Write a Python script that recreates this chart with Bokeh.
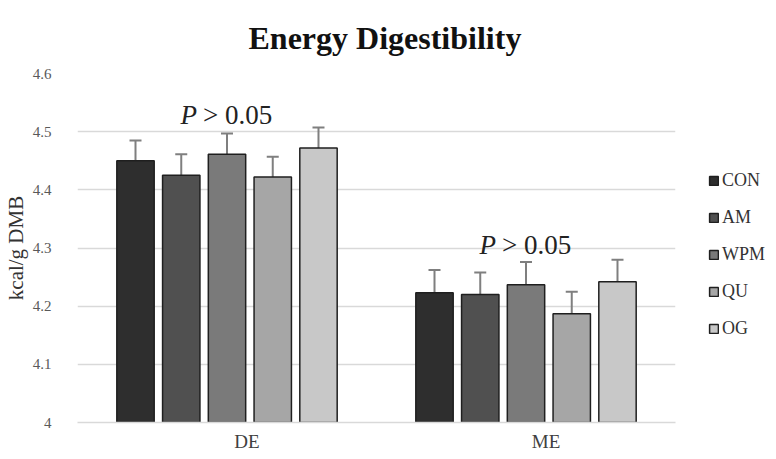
from bokeh.plotting import figure
from bokeh.models import (ColumnDataSource, Range1d, LinearAxis, FixedTicker,
                          Whisker, TeeHead, Legend, LegendItem)
from bokeh.transform import dodge
from bokeh.core.properties import value
from bokeh.embed import file_html
from bokeh.resources import INLINE

# ---- data ----
categories = ["DE", "ME"]
series = ["CON", "AM", "WPM", "QU", "OG"]
CON = [4.450, 4.223]
AM = [4.425, 4.220]
WPM = [4.461, 4.237]
QU = [4.422, 4.187]
OG = [4.472, 4.242]
CON_err = [0.035, 0.039]
AM_err = [0.036, 0.038]
WPM_err = [0.036, 0.039]
QU_err = [0.035, 0.038]
OG_err = [0.035, 0.038]
y_ticks = [4.0, 4.1, 4.2, 4.3, 4.4, 4.5, 4.6]
y_tick_labels = ["4", "4.1", "4.2", "4.3", "4.4", "4.5", "4.6"]
p_label_y = [4.528, 4.306]
p_label_rest = ["> 0.05", "> 0.05"]

means = {"CON": CON, "AM": AM, "WPM": WPM, "QU": QU, "OG": OG}
errs = {"CON": CON_err, "AM": AM_err, "WPM": WPM_err, "QU": QU_err, "OG": OG_err}

# ---- style ----
colors = ["#2e2e2e", "#505050", "#7a7a7a", "#a6a6a6", "#c8c8c8"]
offsets = [-0.306, -0.153, 0.0, 0.153, 0.306]
FONT = "Liberation Serif"

# category slots: one unit per category, centred at i + 0.5
xc = [i + 0.5 for i in range(len(categories))]
data = {"cat": categories, "xc": xc, "py": p_label_y, "prest": p_label_rest}
for s in series:
    data[s] = means[s]
    data[s + "_hi"] = [m + e for m, e in zip(means[s], errs[s])]
src = ColumnDataSource(data)

p = figure(frame_width=598, frame_height=349, x_range=Range1d(0, len(categories)),
           y_range=Range1d(4.0, 4.6), output_backend="svg", toolbar_location=None,
           min_border_left=71, min_border_right=91, min_border_top=66, min_border_bottom=28)
p.outline_line_color = None
p.background_fill_color = "white"
p.border_fill_color = "white"

# title
p.title.text = "Energy Digestibility"
p.title.align = "left"
p.title.text_font = FONT
p.title.text_font_style = "bold"
p.title.text_font_size = "32px"
p.title.text_color = "#111111"
p.title.offset = 171
p.title.standoff = 35

# axes
p.xaxis.visible = False
p.extra_x_ranges = {"lab": Range1d(-20 / 299, len(categories) - 20 / 299)}
xlab = LinearAxis(x_range_name="lab", ticker=FixedTicker(ticks=xc),
                  major_label_overrides=dict(zip(xc, categories)))
xlab.major_tick_line_color = None
xlab.minor_tick_line_color = None
xlab.axis_line_color = "#d9d9d9"
xlab.axis_line_width = 1.5
xlab.major_label_text_font = FONT
xlab.major_label_text_font_size = "19px"
xlab.major_label_text_color = "#404040"
xlab.major_label_standoff = 2
p.add_layout(xlab, "below")

p.yaxis.ticker = FixedTicker(ticks=y_ticks)
p.yaxis.major_label_overrides = dict(zip(y_ticks, y_tick_labels))
p.yaxis.axis_line_color = None
p.yaxis.major_tick_line_color = None
p.yaxis.minor_tick_line_color = None
p.yaxis.major_label_text_font = FONT
p.yaxis.major_label_text_font_size = "15px"
p.yaxis.major_label_text_color = "#595959"
p.yaxis.major_label_standoff = 20
p.yaxis.axis_label = "kcal/g DMB"
p.yaxis.axis_label_text_font = FONT
p.yaxis.axis_label_text_font_style = "normal"
p.yaxis.axis_label_text_font_size = "21px"
p.yaxis.axis_label_text_color = "#333333"
p.yaxis.axis_label_standoff = 2

p.xgrid.grid_line_color = None
p.ygrid.grid_line_color = "#d9d9d9"
p.ygrid.grid_line_width = 1.5

# bars + error bars
items = []
for s, c, off in zip(series, colors, offsets):
    r = p.vbar(x=dodge("xc", off), top=s, bottom=3.9, width=0.125,
               source=src, fill_color=c, line_color="#1f1f1f", line_width=1.5)
    items.append(LegendItem(label=s, renderers=[r]))
    w = Whisker(base=dodge("xc", off), lower=s, upper=s + "_hi",
                source=src, dimension="height", line_color="#7f7f7f", line_width=2,
                upper_head=TeeHead(size=12, line_color="#7f7f7f", line_width=2),
                lower_head=None)
    p.add_layout(w)

# P > 0.05 labels
p.text(x="xc", y="py", text=value("P"), source=src, text_font=value(FONT),
       text_font_style="italic", text_font_size="27px", text_align="right",
       text_baseline="alphabetic", x_offset=-30, text_color="#222222")
p.text(x="xc", y="py", text="prest", source=src, text_font=value(FONT),
       text_font_size="27px", text_align="left",
       text_baseline="alphabetic", x_offset=-24, text_color="#222222")

legend = Legend(items=items, location=(33, 83), orientation="vertical",
                glyph_width=11, glyph_height=11, label_height=22, spacing=15,
                padding=0, margin=0, label_standoff=3,
                label_text_font=FONT, label_text_font_size="18px",
                label_text_color="#333333", border_line_color=None,
                background_fill_alpha=0)
p.add_layout(legend, "right")

open("out.html", "w").write(file_html(p, INLINE))
